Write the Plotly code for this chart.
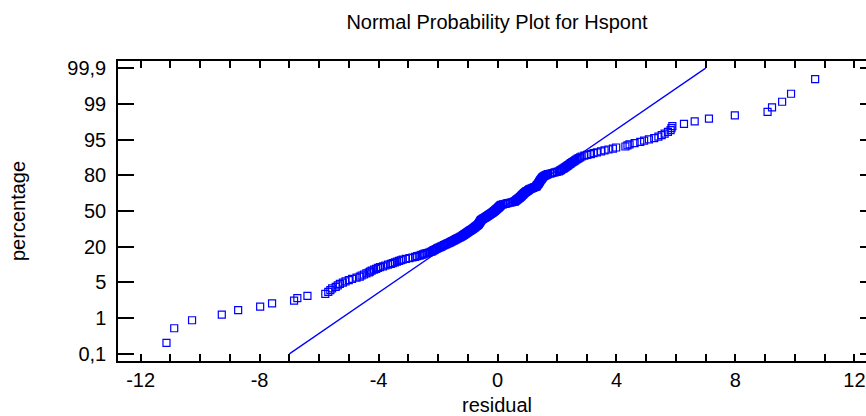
import plotly.graph_objects as go
from statistics import NormalDist

# ---- data ----
residuals = [
    -11.13, -10.87, -10.27, -9.27, -8.72, -7.98, -7.58, -6.84, -6.73, -6.39,
    -5.79, -5.69, -5.62, -5.56, -5.44, -5.37, -5.30, -5.20, -5.11, -5.00,
    -4.89, -4.74, -4.63, -4.57, -4.49, -4.41, -4.33, -4.29, -4.23, -4.15,
    -4.08, -4.02, -3.95, -3.85, -3.77, -3.68, -3.59, -3.52, -3.45, -3.38,
    -3.31, -3.25, -3.19, -3.08, -2.96, -2.86, -2.77, -2.70, -2.62, -2.56,
    -2.50, -2.45, -2.38, -2.31, -2.25, -2.20, -2.17, -2.13, -2.10, -2.06,
    -2.03, -1.99, -1.95, -1.91, -1.88, -1.84, -1.80, -1.76, -1.72, -1.69,
    -1.65, -1.61, -1.58, -1.55, -1.52, -1.48, -1.45, -1.42, -1.39, -1.36,
    -1.33, -1.30, -1.27, -1.24, -1.21, -1.18, -1.16, -1.14, -1.12, -1.10,
    -1.07, -1.05, -1.03, -1.01, -0.99, -0.96, -0.94, -0.92, -0.90, -0.87,
    -0.85, -0.83, -0.81, -0.79, -0.77, -0.75, -0.74, -0.72, -0.70, -0.68,
    -0.66, -0.65, -0.64, -0.63, -0.62, -0.61, -0.60, -0.59, -0.58, -0.58,
    -0.57, -0.56, -0.55, -0.53, -0.51, -0.49, -0.47, -0.45, -0.42, -0.40,
    -0.38, -0.36, -0.34, -0.32, -0.30, -0.28, -0.26, -0.24, -0.22, -0.20,
    -0.18, -0.16, -0.14, -0.13, -0.11,
    -0.09, -0.08, -0.06, -0.05, -0.03, -0.02, 0.00, 0.02, 0.03, 0.04,
    0.06, 0.07, 0.08, 0.10, 0.11, 0.13, 0.18, 0.24, 0.29, 0.34,
    0.41, 0.47, 0.53, 0.58, 0.59, 0.61, 0.63, 0.64, 0.66, 0.68,
    0.70, 0.72, 0.74, 0.75, 0.77, 0.78, 0.80, 0.81, 0.82, 0.84,
    0.85, 0.87, 0.88, 0.90, 0.91, 0.93, 0.95, 0.97, 0.99, 1.02,
    1.04, 1.06, 1.08, 1.11, 1.15, 1.19, 1.23, 1.27, 1.30, 1.31,
    1.32, 1.33, 1.35, 1.36, 1.37, 1.38, 1.39, 1.40, 1.41, 1.42,
    1.43, 1.44, 1.45, 1.47, 1.48, 1.49, 1.50, 1.52, 1.53, 1.56,
    1.59, 1.63, 1.66, 1.70, 1.78, 1.85, 1.92, 1.99, 2.06, 2.10,
    2.13, 2.16, 2.19, 2.23, 2.26, 2.29, 2.32, 2.35, 2.38, 2.41,
    2.44, 2.47, 2.51, 2.54, 2.58, 2.61, 2.65, 2.69, 2.73, 2.78,
    2.83, 2.92, 3.02, 3.14, 3.23, 3.34, 3.48, 3.60, 3.73, 3.88,
    3.99, 4.30, 4.37, 4.44, 4.61, 4.80, 4.93, 5.09, 5.27, 5.41,
    5.52, 5.62, 5.73, 5.82, 5.85, 5.88, 6.27, 6.63, 7.11, 7.98,
    9.08, 9.23, 9.57, 9.87, 10.68,
]

fit_mean = 0.0
fit_sd = 2.265
fit_z = [-3.09, 3.09]

prob_tick_z = [-3.09, -2.3175, -1.545, -0.7725, 0.0, 0.7725, 1.545, 2.3175, 3.09]
prob_tick_labels = ["0,1", "1", "5", "20", "50", "80", "95", "99", "99,9"]

x_tick_vals = [-12, -11, -10, -9, -8, -7, -6, -5, -4, -3, -2, -1, 0,
               1, 2, 3, 4, 5, 6, 7, 8, 9, 10, 11, 12]
x_tick_text = ["-12", "", "", "", "-8", "", "", "", "-4", "", "", "", "0",
               "", "", "", "4", "", "", "", "8", "", "", "", "12"]

# ---- normal probability positions (Blom) ----
xs = sorted(residuals)
n = len(xs)
nd = NormalDist()
zs = [nd.inv_cdf((i + 1 - 0.375) / (n + 0.25)) for i in range(n)]
fit_x = [fit_mean + fit_sd * z for z in fit_z]

BLUE = "#0000FF"
FONT = "Liberation Sans, Arial, Helvetica, sans-serif"
FS = 20

fig = go.Figure()
fig.add_trace(go.Scatter(
    x=xs, y=zs, mode="markers",
    marker=dict(symbol="square-open", size=7, color=BLUE, line=dict(width=1.2, color=BLUE)),
    showlegend=False, hoverinfo="x+y",
))
fig.add_trace(go.Scatter(
    x=fit_x, y=fit_z, mode="lines", yaxis="y2",
    line=dict(color=BLUE, width=1.3),
    showlegend=False,
))

fig.update_layout(
    width=866, height=416,
    margin=dict(l=118, r=0, t=61, b=55, autoexpand=False),
    paper_bgcolor="white", plot_bgcolor="white",
    font=dict(family=FONT, size=FS, color="black"),
    title=dict(text="Normal Probability Plot for Hspont", x=497 / 866, xref="container",
               xanchor="center", y=1 - 22 / 416, yref="container", yanchor="middle",
               font=dict(family=FONT, size=FS, color="black")),
    xaxis=dict(
        range=[-12.76, 12.39], tickmode="array", tickvals=x_tick_vals, ticktext=x_tick_text,
        ticks="inside", ticklen=7, tickwidth=1.5, tickcolor="black",
        showline=True, linecolor="black", linewidth=1.5, mirror="ticks",
        showgrid=False, zeroline=False, ticklabelstandoff=0, automargin=False,
        tickfont=dict(family=FONT, size=FS, color="black"),
    ),
    yaxis=dict(
        range=[-3.245, 3.245], tickmode="array", tickvals=prob_tick_z, ticktext=prob_tick_labels,
        ticks="inside", ticklen=16, tickwidth=1.5, tickcolor="black",
        showline=True, linecolor="black", linewidth=1.5, mirror=False,
        showgrid=False, zeroline=False, ticklabelstandoff=6, automargin=False,
        tickfont=dict(family=FONT, size=FS, color="black"),
    ),
    yaxis2=dict(
        range=[-3.245, 3.245], overlaying="y", side="right", matches="y",
        tickmode="array", tickvals=prob_tick_z, showticklabels=False,
        ticks="inside", ticklen=6, tickwidth=1.5, tickcolor="black",
        showline=False, showgrid=False, zeroline=False, automargin=False,
    ),
    annotations=[
        dict(text="residual", xref="paper", yref="paper", x=(497 - 118) / 748, y=(361 - 405) / 300,
             xanchor="center", yanchor="middle", showarrow=False,
             font=dict(family=FONT, size=FS, color="black")),
        dict(text="percentage", xref="paper", yref="paper", x=(18 - 118) / 748, y=0.5,
             xanchor="center", yanchor="middle", showarrow=False, textangle=-90,
             font=dict(family=FONT, size=FS, color="black")),
    ],
)

fig.write_html("out.html", config={"displayModeBar": False},
               post_script="document.body.style.margin='0';")
